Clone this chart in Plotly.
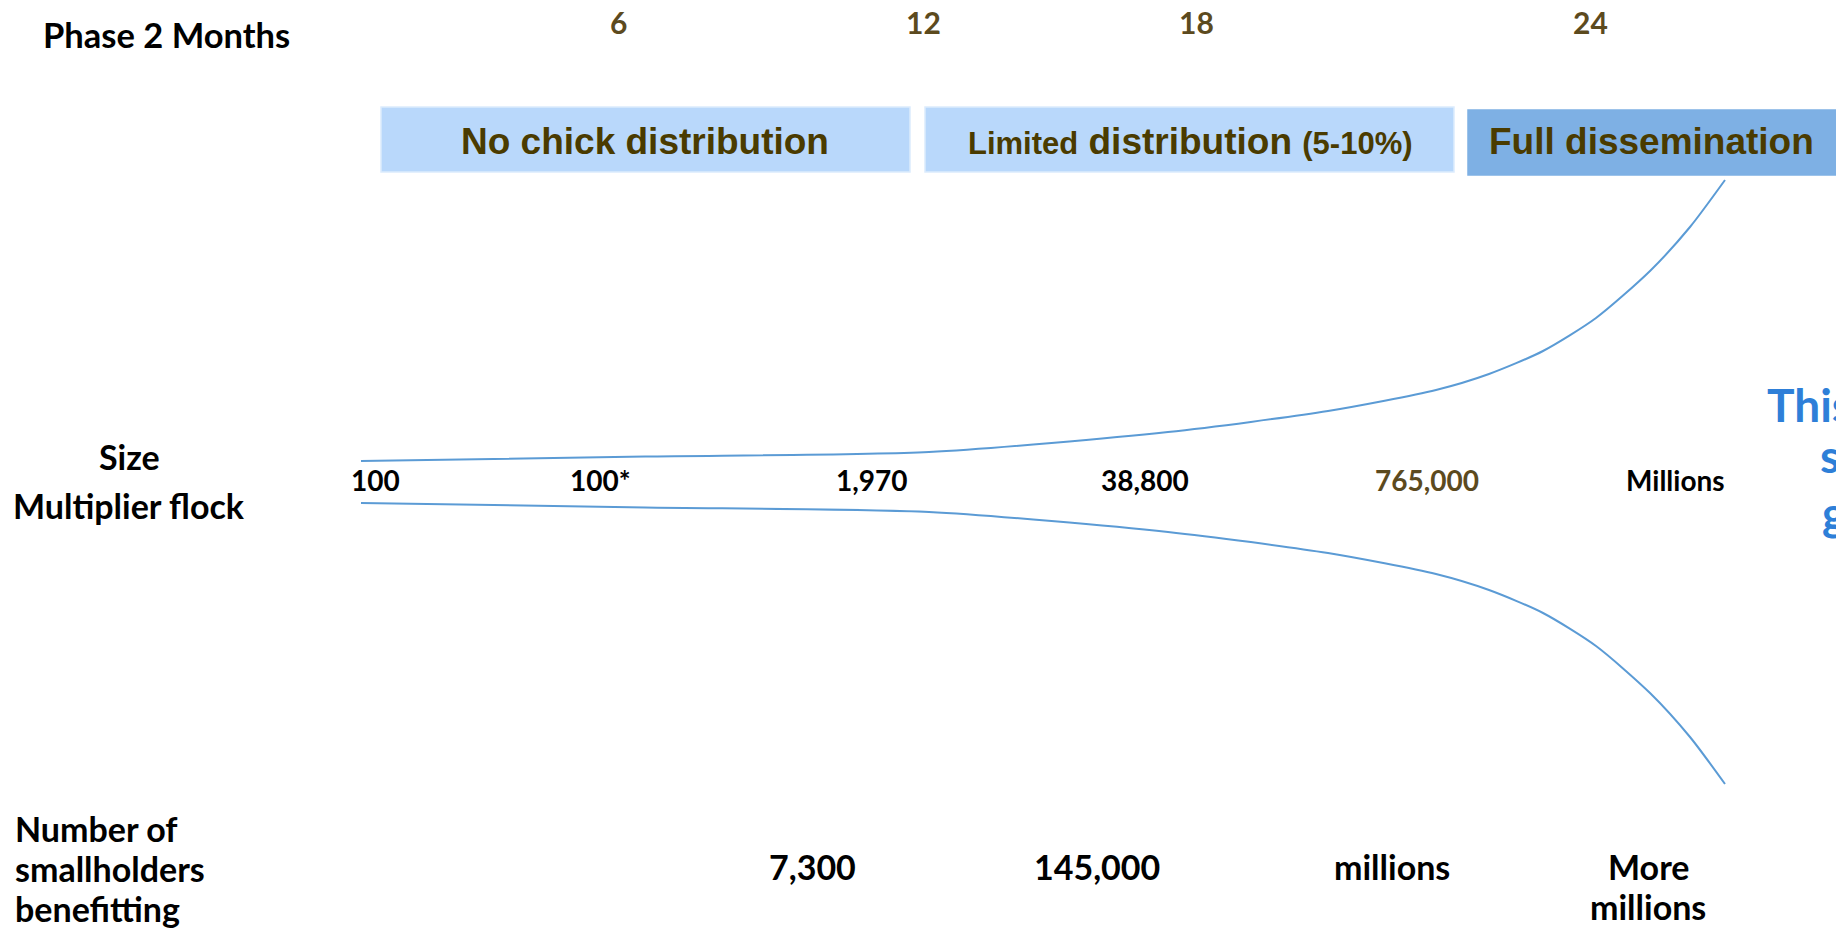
import plotly.graph_objects as go

# ---------------- data ----------------
month_labels = ["6", "12", "18", "24"]
phase_labels = [
    "No chick distribution",
    "<span style='font-size:31px'>Limited</span> distribution <span style='font-size:31px'>(5-10%)</span>",
    "Full dissemination",
]
flock_sizes = ["100", "100*", "1,970", "38,800", "765,000", "Millions"]
smallholders = ["7,300", "145,000", "millions", "More", "millions"]
row_label_lines = ["Number of", "smallholders", "benefitting"]

# funnel outline: horizontal stage position and half-spread of the funnel
funnel_x = [361, 645, 929, 1168, 1328, 1436, 1489, 1543, 1596, 1650, 1690, 1725]
funnel_spread = [21, 25.5, 30, 50, 71, 92, 108, 131, 164, 211, 255, 302]

# ---------------- layout constants ----------------
W, H = 1836, 929
CENTER_Y = 482
month_x = [618, 923, 1196, 1590]
box_x0 = [381, 925, 1468]
box_x1 = [910, 1454, 1850]
box_y0 = [107, 107, 110]
box_y1 = [172, 172, 175]
box_fill = ["#B9D8FB", "#B9D8FB", "#7EB0E4"]
box_line = ["#DCEBFD", "#DCEBFD", "#7EB0E4"]
phase_text_x = [645, 1190, 1651]
flock_x = [375, 600, 872, 1145, 1427, 1675]
flock_col = ["#000000"] * 4 + ["#5C4A1E", "#000000"]
holder_x = [812, 1097, 1392, 1648, 1648]
holder_y = [866, 866, 866, 866, 906]
row_label_y = [828, 868, 908]

BROWN = "#5C4A1E"
OLIVE = "#4A3B00"
LINE = "#5B9BD5"
BLUE_TXT = "#2E7FD8"
F_MAIN = "Lato, 'Open Sans', sans-serif"
F_BOX = "'Liberation Sans', Arial, sans-serif"

fig = go.Figure()

upper = [CENTER_Y - s for s in funnel_spread]
lower = [CENTER_Y + s for s in funnel_spread]
for ys in (upper, lower):
    fig.add_trace(go.Scatter(
        x=funnel_x, y=ys, mode="lines",
        line=dict(color=LINE, width=2, shape="spline", smoothing=0.7),
        hoverinfo="skip", showlegend=False))

shapes = []
for x0, x1, y0, y1, fc, lc in zip(box_x0, box_x1, box_y0, box_y1, box_fill, box_line):
    shapes.append(dict(type="rect", xref="x", yref="y", x0=x0, x1=x1, y0=y0, y1=y1,
                       fillcolor=fc, line=dict(color=lc, width=1.5), layer="below"))

ann = []
def add(text, x, y, size, color="#000000", family=F_MAIN, xanchor="center", align="center", bold=True):
    ann.append(dict(text=f"<b>{text}</b>" if bold else text, x=x, y=y, xref="x", yref="y",
                    showarrow=False, xanchor=xanchor, yanchor="middle", align=align,
                    font=dict(family=family, size=size, color=color)))

add("Phase 2 Months", 166, 34, 34.5)
for lab, x in zip(month_labels, month_x):
    add(lab, x, 22, 30, BROWN)
for lab, x in zip(phase_labels, phase_text_x):
    add(lab, x, 141, 37, OLIVE, F_BOX)

add("Size", 129, 456, 34)
add("Multiplier flock", 129, 505, 34)
for lab, x, c in zip(flock_sizes, flock_x, flock_col):
    add(lab, x, 480, 28, c)

for lab, y in zip(row_label_lines, row_label_y):
    add(lab, 13, y, 34, xanchor="left", align="left")
for lab, x, y in zip(smallholders, holder_x, holder_y):
    add(lab, x, y, 34)

# clipped blue statement at the right edge
add("This", 1765, 404, 46, BLUE_TXT, xanchor="left", align="left")
add("s", 1818, 455, 46, BLUE_TXT, xanchor="left", align="left")
add("g", 1820, 512, 46, BLUE_TXT, xanchor="left", align="left")

fig.update_layout(
    width=W, height=H, margin=dict(l=0, r=0, t=0, b=0),
    paper_bgcolor="white", plot_bgcolor="white",
    xaxis=dict(range=[0, W], visible=False, fixedrange=True),
    yaxis=dict(range=[H, 0], visible=False, fixedrange=True),
    shapes=shapes, annotations=ann, showlegend=False,
)
fig.write_html("out.html")
